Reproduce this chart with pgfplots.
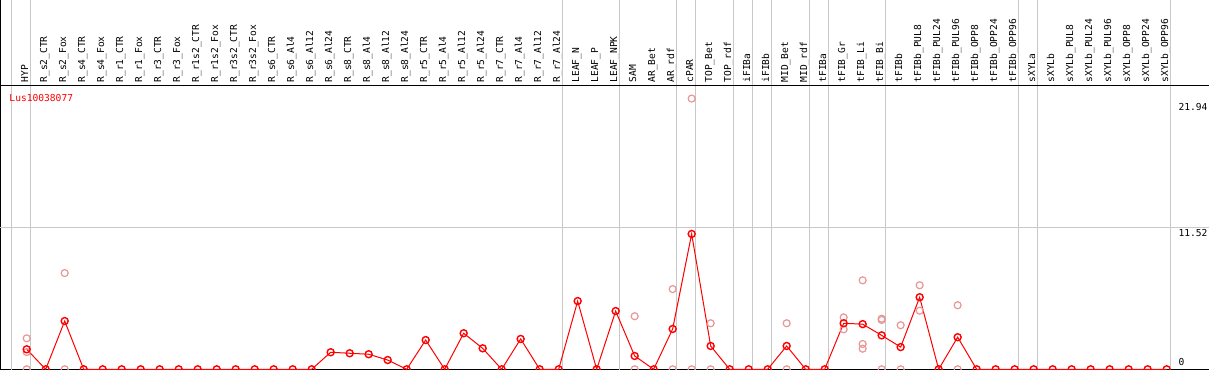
\documentclass[border=0pt]{standalone}
\usepackage{fontspec}
\setmonofont{DejaVu Sans Mono}
\usepackage{pgfplots}
\pgfplotsset{compat=1.18}
\definecolor{lred}{RGB}{255,0,0}
\definecolor{pinkc}{RGB}{232,150,150}
\definecolor{gridc}{RGB}{200,200,200}
\newcommand\lf{\ttfamily\fontsize{9.6bp}{10bp}\selectfont}
\begin{document}
\begin{tikzpicture}
\begin{axis}[
  scale only axis, width=1209bp, height=370bp,
  xmin=-1.405, xmax=62.23, ymin=-0.057, ymax=29.93,
  axis line style={black, line width=1bp},
  xtick={0.08,1.08,2.08,3.08,4.08,5.08,6.08,7.08,8.08,9.08,10.08,11.08,12.08,13.08,14.08,15.08,16.08,17.08,18.08,19.08,20.08,21.08,22.08,23.08,24.08,25.08,26.08,27.08,28.08,29.08,30.08,31.08,32.08,33.08,34.08,35.08,36.08,37.08,38.08,39.08,40.08,41.08,42.08,43.08,44.08,45.08,46.08,47.08,48.08,49.08,50.08,51.08,52.08,53.08,54.08,55.08,56.08,57.08,58.08,59.08,60.08},
  xticklabels={HYP,R\_s2\_CTR,R\_s2\_Fox,R\_s4\_CTR,R\_s4\_Fox,R\_r1\_CTR,R\_r1\_Fox,R\_r3\_CTR,R\_r3\_Fox,R\_r1s2\_CTR,R\_r1s2\_Fox,R\_r3s2\_CTR,R\_r3s2\_Fox,R\_s6\_CTR,R\_s6\_Al4,R\_s6\_Al12,R\_s6\_Al24,R\_s8\_CTR,R\_s8\_Al4,R\_s8\_Al12,R\_s8\_Al24,R\_r5\_CTR,R\_r5\_Al4,R\_r5\_Al12,R\_r5\_Al24,R\_r7\_CTR,R\_r7\_Al4,R\_r7\_Al12,R\_r7\_Al24,LEAF\_N,LEAF\_P,LEAF\_NPK,SAM,AR\_Bet,AR\_rdf,cPAR,TOP\_Bet,TOP\_rdf,iFIBa,iFIBb,MID\_Bet,MID\_rdf,tFIBa,tFIB\_Gr,tFIB\_Li,tFIB\_Bi,tFIBb,tFIBb\_PUL8,tFIBb\_PUL24,tFIBb\_PUL96,tFIBb\_OPP8,tFIBb\_OPP24,tFIBb\_OPP96,sXYLa,sXYLb,sXYLb\_PUL8,sXYLb\_PUL24,sXYLb\_PUL96,sXYLb\_OPP8,sXYLb\_OPP24,sXYLb\_OPP96},
  xticklabel style={rotate=90, anchor=base west, inner sep=0pt, font=\lf},
  xticklabel shift=-287.3bp,
  yticklabel style={inner sep=0pt},
  major tick length=0pt,
  ytick=\empty,
  extra x ticks={-0.8,0.2,28.2,31.2,34.2,35.2,37.2,38.2,39.2,41.2,42.2,45.2,52.2,53.2,60.2},
  extra x tick labels={},
  extra x tick style={grid=major, major grid style={gridc, line width=1bp}},
  extra y ticks={11.52},
  extra y tick labels={},
  extra y tick style={grid=major, major grid style={gridc, line width=1bp}},
]
\draw[black, line width=1bp] (axis cs:-1.405,22.96) -- (axis cs:62.23,22.96);

\addplot[only marks, mark=o, mark size=3.5bp, mark options={pinkc, line width=1.2bp}] coordinates {
(0,2.51) (0,1.40) (0,0) (2,7.80) (2,0) (32,4.30) (32,0) (34,6.50) (34,0)
(35,21.94) (35,0) (36,3.73) (36,0) (40,3.73) (40,0) (43,4.21) (43,3.24)
(44,7.21) (44,2.05) (44,1.67) (45,4.10) (45,4.00) (45,0) (46,3.57) (46,0)
(47,6.81) (47,4.75) (49,5.19) (49,0)
};

\addplot[lred, line width=1bp, mark=o, mark size=3.5bp, mark options={lred, fill=white, line width=1.4bp}] coordinates {
(0,1.62) (1,0) (2,3.91) (3,0) (4,0) (5,0) (6,0) (7,0) (8,0) (9,0) (10,0)
(11,0) (12,0) (13,0) (14,0) (15,0) (16,1.38) (17,1.30) (18,1.22) (19,0.75)
(20,0) (21,2.37) (22,0) (23,2.92) (24,1.70) (25,0) (26,2.46) (27,0) (28,0)
(29,5.53) (30,0) (31,4.72) (32,1.08) (33,0) (34,3.27) (35,10.97) (36,1.89)
(37,0) (38,0) (39,0) (40,1.89) (41,0) (42,0) (43,3.73) (44,3.66) (45,2.75)
(46,1.80) (47,5.84) (48,0) (49,2.60) (50,0) (51,0) (52,0) (53,0) (54,0)
(55,0) (56,0) (57,0) (58,0) (59,0) (60,0)
};

\node[anchor=base west, inner sep=0pt, font=\lf] at (axis cs:60.62,21.01) {21.94};
\node[anchor=base west, inner sep=0pt, font=\lf] at (axis cs:60.62,10.80) {11.52};
\node[anchor=base west, inner sep=0pt, font=\lf] at (axis cs:60.62,0.27) {0};
\node[anchor=base west, inner sep=0pt, font=\lf, text=lred] at (axis cs:-0.916,21.74) {Lus10038077};
\end{axis}
\pgfresetboundingbox
\path[use as bounding box] (current axis.south west) rectangle (current axis.north east);
\end{tikzpicture}
\end{document}
